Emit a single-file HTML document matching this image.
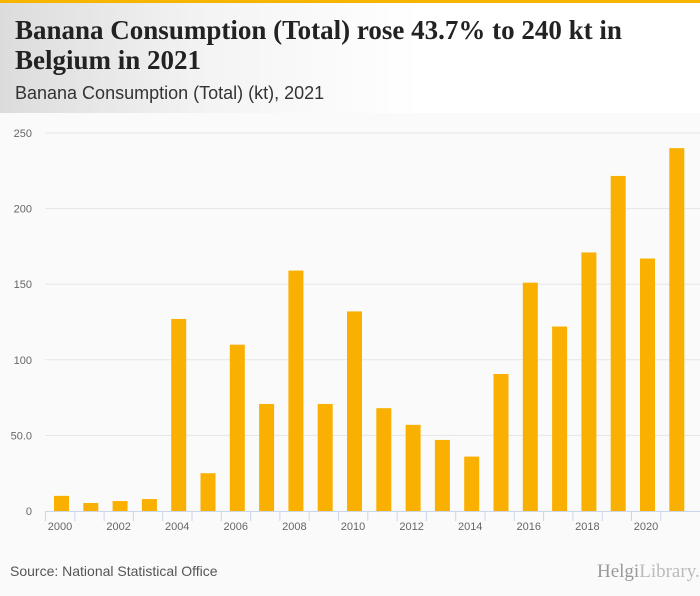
<!DOCTYPE html>
<html><head><meta charset="utf-8"><style>
body{margin:0;width:700px;height:596px;background:#fafafa;font-family:"Liberation Sans",sans-serif;overflow:hidden;position:relative}
#hdr{position:absolute;left:0;top:0;width:700px;height:113px;background:linear-gradient(90deg,#dcdcdc 0%,#f4f4f4 30%,#fff 60%);border-top:3px solid #f7b500;box-sizing:border-box}
#title{position:absolute;left:15px;top:12px;font:bold 27px/30px "Liberation Serif",serif;color:#222;width:680px}
#sub{position:absolute;left:15px;top:80px;font:18px "Liberation Sans",sans-serif;color:#333}
#src{position:absolute;left:10px;top:563px;font:14px "Liberation Sans",sans-serif;color:#555}
#logo{position:absolute;left:597px;top:561px;font:19px "Liberation Serif",serif;color:#999}
</style></head><body>
<div id="hdr">
<div id="title">Banana Consumption (Total) rose 43.7% to 240 kt in Belgium in 2021</div>
<div id="sub">Banana Consumption (Total) (kt), 2021</div>
</div>
<svg id="chart" width="700" height="596" style="position:absolute;left:0;top:0"></svg>
<div id="src">Source: National Statistical Office</div>
<div id="logo">Helgi<span style="color:#bbb">Library.</span></div>
<script>
const years=[2000,2001,2002,2003,2004,2005,2006,2007,2008,2009,2010,2011,2012,2013,2014,2015,2016,2017,2018,2019,2020,2021];
const values=[10,5.3,6.6,7.9,127,25,110,70.8,159,70.8,132,68,57,47,36,90.6,151,122,171,221.6,167,240];
const yTicks=[0,50,100,150,200,250];
const yTickLabels=["0","50.0","100","150","200","250"];
const svg=document.getElementById('chart');const NS='http://www.w3.org/2000/svg';
const x0=45,step=29.3,y0=511,ppu=378/250;
const X=i=>x0+i*step;const Y=v=>y0-v*ppu;
function mk(t,a){const e=document.createElementNS(NS,t);for(const k in a)e.setAttribute(k,a[k]);svg.appendChild(e);return e;}
yTicks.forEach((t,i)=>{
 if(t>0){const g=mk('line',{x1:x0,x2:700,y1:Y(t),y2:Y(t),stroke:'#e6e6e6'});
 
 }
 const l=mk('text',{x:32,y:Y(t)+4,'text-anchor':'end','font-size':'11','fill':'#666','font-family':'Liberation Sans'});
 l.textContent=yTickLabels[i];
 
 
});
const ax=mk('line',{x1:x0,x2:700,y1:y0+0.5,y2:y0+0.5,stroke:'#ccd6eb'});


years.forEach((yr,i)=>{
 const tk=mk('line',{x1:X(i)+0.5,x2:X(i)+0.5,y1:y0,y2:y0+10,stroke:'#ccd6eb'});
 
 
 const b=mk('rect',{x:X(i)+9,y:Y(values[i]),width:15,height:values[i]*ppu,fill:'#f9b000'});
 
 
 if(i%2==0){const t=mk('text',{x:X(i)+15,y:y0+19,'text-anchor':'middle','font-size':'11','fill':'#666','font-family':'Liberation Sans'});
 t.textContent=yr;
 
 }
});
</script>
</body></html>
